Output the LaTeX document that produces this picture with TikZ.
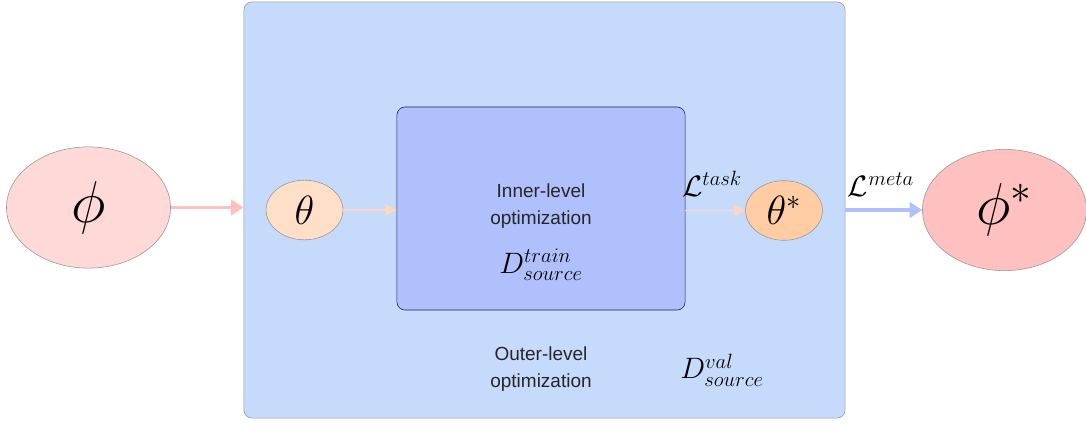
\RequirePackage{fix-cm}
\documentclass[tikz,border=0pt]{standalone}
\usepackage{fontspec}
\setsansfont{Liberation Sans}
\usetikzlibrary{arrows.meta,shapes.geometric}
\definecolor{outerfill}{RGB}{198,218,252}
\definecolor{innerfill}{RGB}{175,192,252}
\definecolor{innerline}{RGB}{30,30,90}
\definecolor{phifill}{RGB}{255,216,216}
\definecolor{phistarfill}{RGB}{255,192,192}
\definecolor{thetafill}{RGB}{255,223,200}
\definecolor{thetastarfill}{RGB}{255,204,164}
\definecolor{pinkarrow}{RGB}{255,192,192}
\definecolor{peacharrow}{RGB}{255,214,190}
\definecolor{bluearrow}{RGB}{176,192,255}
\definecolor{edgegray}{RGB}{150,150,150}
\begin{document}
\begin{tikzpicture}[x=0.025cm,y=-0.025cm,
  bigvar/.style={ellipse,draw=edgegray,thin,minimum width=4.1cm,minimum height=3.03cm,inner sep=0pt,font=\fontsize{42}{48}\selectfont},
  smallvar/.style={ellipse,draw=edgegray,thin,minimum width=1.92cm,minimum height=1.49cm,inner sep=0pt,font=\fontsize{29}{32}\selectfont},
  levelbox/.style={rounded corners=0.2cm,inner sep=0pt},
  leveltext/.style={align=center,inner sep=1pt,font=\sffamily\fontsize{13.5}{19}\selectfont,text=black!85},
  mathtext/.style={inner sep=1pt,font=\fontsize{21}{24}\selectfont},
  fatarrow/.style={line width=2.8pt,-{Triangle[length=9pt,width=11pt]}},
  thinarrow/.style={line width=1.4pt,-{Triangle[length=8pt,width=8pt]}}]
\useasboundingbox (0,0) rectangle (1086,426);
% boxes
\node[levelbox,draw=edgegray,fill=outerfill,minimum width=15.025cm,minimum height=10.4cm] (outer) at (544.5,210) {};
\node[levelbox,draw=innerline,fill=innerfill,minimum width=7.2cm,minimum height=5.075cm] (inner) at (541,208.5) {};
% variables
\node[bigvar,fill=phifill] (phi) at (88.5,207.5) {$\phi$};
\node[smallvar,fill=thetafill] (theta) at (304.5,210) {$\theta$};
\node[smallvar,fill=thetastarfill] (thetastar) at (784,210.5) {$\theta^{*}$};
\node[bigvar,fill=phistarfill] (phistar) at (1004.5,210) {$\phi^{*}$};
% texts
\node[leveltext] (innertext) at (541,206) {Inner-level\\optimization};
\node[mathtext] (dtrain) at (541,265) {$D^{train}_{source}$};
\node[leveltext] (outertext) at (541,369) {Outer-level\\optimization};
\node[mathtext] (dval) at (722,370) {$D^{val}_{source}$};
% arrows
\draw[fatarrow,pinkarrow] (phi.east) -- (phi.east -| outer.west);
\draw[thinarrow,peacharrow] (theta.east) -- (theta.east -| inner.west);
\draw[thinarrow,peacharrow] (thetastar.west -| inner.east) -- (thetastar.west);
\draw[fatarrow,bluearrow] (phistar.west -| outer.east) -- (phistar.west);
\node[mathtext] (ltask) at (712,184) {$\mathcal{L}^{task}$};
\node[mathtext] (lmeta) at (881,185) {$\mathcal{L}^{meta}$};
\end{tikzpicture}
\end{document}
